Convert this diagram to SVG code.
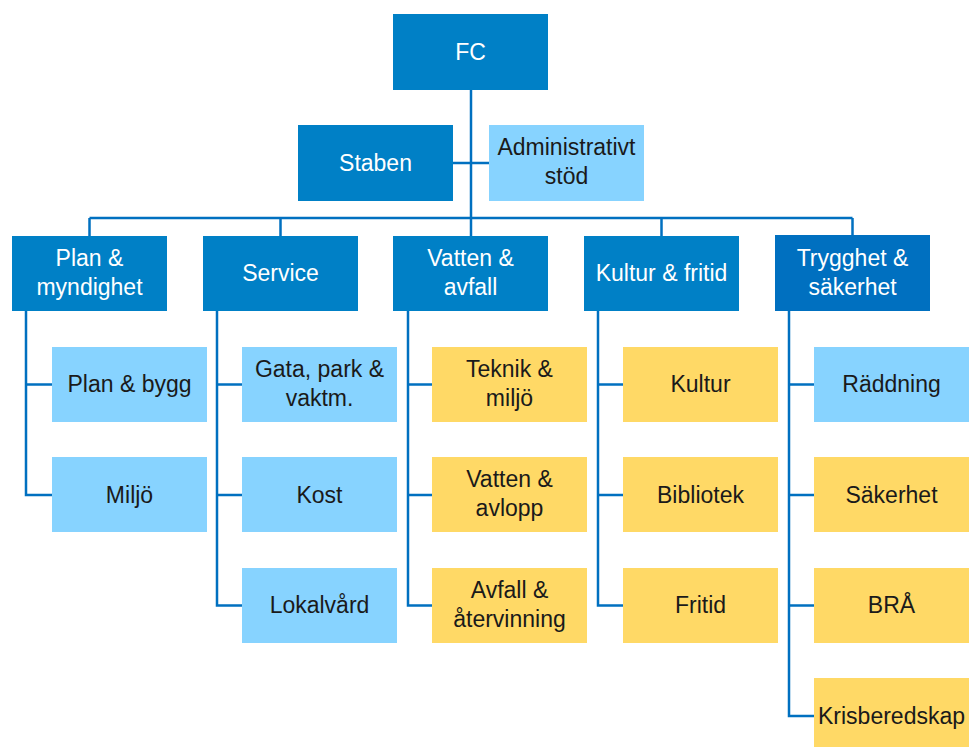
<svg xmlns="http://www.w3.org/2000/svg" width="974" height="747" viewBox="0 0 974 747">
<style>
.dk{fill:#0080C6}
.dk2{fill:#0070C0}
.lb{fill:#87D3FF}
.ye{fill:#FFD966}
text{font-family:"Liberation Sans",Arial,sans-serif;font-size:23px;text-anchor:middle}
.w{fill:#ffffff}
.b{fill:#1a1a1a}
.ln{stroke:#0070C0;stroke-width:2.5;fill:none}
</style>
<rect width="974" height="747" fill="#ffffff"/>
<g id="connectors" class="ln">
<path d="M471 90V236"/>
<path d="M453 163H489"/>
<path d="M89.5 218H852.5"/>
<path d="M89.5 218V236M280.5 218V236M661.5 218V236M852.5 218V235"/>
<path d="M26 311V495H52M26 384.5H52"/>
<path d="M217 311V605.5H242M217 384.5H242M217 495H242"/>
<path d="M408 311V605.5H432M408 384.5H432M408 495H432"/>
<path d="M598 311V605.5H623M598 384.5H623M598 495H623"/>
<path d="M789 311V716H814M789 384.5H814M789 495H814M789 605.5H814"/>
</g>
<g id="fc"><rect class="dk" x="393" y="14" width="155" height="76"/><text class="w" x="470.5" y="60">FC</text></g>
<g id="staben"><rect class="dk" x="298" y="125" width="155" height="76"/><text class="w" x="375.5" y="171">Staben</text></g>
<g id="admin"><rect class="lb" x="489" y="125" width="155" height="76"/><text class="b" x="566.5" y="155">Administrativt</text><text class="b" x="566.5" y="184">stöd</text></g>
<g id="plan"><rect class="dk" x="12" y="236" width="155" height="75"/><text class="w" x="89.5" y="266">Plan &amp;</text><text class="w" x="89.5" y="295">myndighet</text></g>
<g id="service"><rect class="dk" x="203" y="236" width="155" height="75"/><text class="w" x="280.5" y="281">Service</text></g>
<g id="vatten"><rect class="dk" x="393" y="236" width="155" height="75"/><text class="w" x="470.5" y="266">Vatten &amp;</text><text class="w" x="470.5" y="295">avfall</text></g>
<g id="kultur"><rect class="dk" x="584" y="236" width="155" height="75"/><text class="w" x="661.5" y="281">Kultur &amp; fritid</text></g>
<g id="trygghet"><rect class="dk2" x="775" y="235" width="155" height="76"/><text class="w" x="852.5" y="266">Trygghet &amp;</text><text class="w" x="852.5" y="295">säkerhet</text></g>
<g id="planbygg"><rect class="lb" x="52" y="347" width="155" height="75"/><text class="b" x="129.5" y="392">Plan &amp; bygg</text></g>
<g id="miljo"><rect class="lb" x="52" y="457" width="155" height="75"/><text class="b" x="129.5" y="503">Miljö</text></g>
<g id="gata"><rect class="lb" x="242" y="347" width="155" height="75"/><text class="b" x="319.5" y="377">Gata, park &amp;</text><text class="b" x="319.5" y="406">vaktm.</text></g>
<g id="kost"><rect class="lb" x="242" y="457" width="155" height="75"/><text class="b" x="319.5" y="503">Kost</text></g>
<g id="lokalvard"><rect class="lb" x="242" y="568" width="155" height="75"/><text class="b" x="319.5" y="613">Lokalvård</text></g>
<g id="teknik"><rect class="ye" x="432" y="347" width="155" height="75"/><text class="b" x="509.5" y="377">Teknik &amp;</text><text class="b" x="509.5" y="406">miljö</text></g>
<g id="vattenavlopp"><rect class="ye" x="432" y="457" width="155" height="75"/><text class="b" x="509.5" y="487">Vatten &amp;</text><text class="b" x="509.5" y="516">avlopp</text></g>
<g id="avfall"><rect class="ye" x="432" y="568" width="155" height="75"/><text class="b" x="509.5" y="598">Avfall &amp;</text><text class="b" x="509.5" y="627">återvinning</text></g>
<g id="kulturc"><rect class="ye" x="623" y="347" width="155" height="75"/><text class="b" x="700.5" y="392">Kultur</text></g>
<g id="bibliotek"><rect class="ye" x="623" y="457" width="155" height="75"/><text class="b" x="700.5" y="503">Bibliotek</text></g>
<g id="fritid"><rect class="ye" x="623" y="568" width="155" height="75"/><text class="b" x="700.5" y="613">Fritid</text></g>
<g id="raddning"><rect class="lb" x="814" y="347" width="155" height="75"/><text class="b" x="891.5" y="392">Räddning</text></g>
<g id="sakerhet"><rect class="ye" x="814" y="457" width="155" height="75"/><text class="b" x="891.5" y="503">Säkerhet</text></g>
<g id="bra"><rect class="ye" x="814" y="568" width="155" height="75"/><text class="b" x="891.5" y="613">BRÅ</text></g>
<g id="kris"><rect class="ye" x="814" y="678" width="155" height="75"/><text class="b" x="891.5" y="724">Krisberedskap</text></g>
</svg>
